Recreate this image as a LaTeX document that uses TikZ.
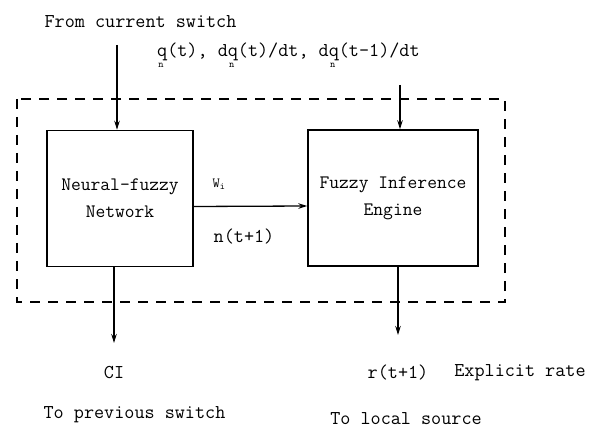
\documentclass[tikz,border=0pt]{standalone}
\usepackage{tikz}
\usetikzlibrary{arrows.meta}

% q con pedice n sotto la lettera
\newcommand{\qsub}{q\rlap{\kern-0.45em\raisebox{-0.55em}{\fontsize{10}{10}\selectfont n}}}

\begin{document}
\begin{tikzpicture}[x=1pt,y=-1pt,
    testo/.style={font=\ttfamily\fontsize{19.6}{27}\selectfont, inner sep=0pt},
    blocco/.style={draw, line width=1.5pt, minimum width=#1, minimum height=136pt,
        align=center, inner sep=0pt, font=\ttfamily\fontsize{19}{27}\selectfont},
    freccia/.style={-{Stealth[length=9pt,width=5.5pt]}, line width=1.3pt}]
    \useasboundingbox (0,0) rectangle (610,430);

    % riquadro tratteggiato
    \draw[dash pattern=on 10pt off 8pt, line width=1.4pt] (17,99) rectangle (505,302);

    \node[blocco=146pt] (nfn) at (120,198.5) {Neural-fuzzy\\Network};
    \node[blocco=170pt] (fie) at (393,198) {Fuzzy Inference\\Engine};

    \node[testo] (from) at (140.5,22) {From current switch};
    \node[testo, anchor=base west] (ingr) at (157,57) {\qsub(t), d\qsub(t)/dt, d\qsub(t-1)/dt};
    \node[testo, font=\ttfamily\fontsize{14}{14}\selectfont] (wi) at (219,184) {W\textsubscript{i}};
    \node[testo] (ntt) at (244,237) {n(t+1)};
    \node[testo] (ci) at (114,373) {CI};
    \node[testo] (prev) at (134.5,415) {To previous switch};
    \node[testo] (rt) at (398,373) {r(t+1)};
    \node[testo] (expl) at (520,373) {Explicit rate};
    \node[testo] (loc) at (406,419) {To local source};

    \coordinate (inq) at (117,45);
    \coordinate (inr) at (400,85);
    \coordinate (outci) at (114,343);
    \coordinate (outr) at (398,335);

    \draw[freccia] (inq) -- (inq |- nfn.north); % dallo switch corrente
    \draw[freccia] (inr) -- (inr |- fie.north); % q, dq/dt
    \draw[freccia] ([yshift=-8pt]nfn.east) -- ([yshift=-8pt]fie.west); % pesi W_i
    \draw[freccia] (outci |- nfn.south) -- (outci); % verso CI
    \draw[freccia] (outr |- fie.south) -- (outr); % verso r(t+1)
\end{tikzpicture}
\end{document}
